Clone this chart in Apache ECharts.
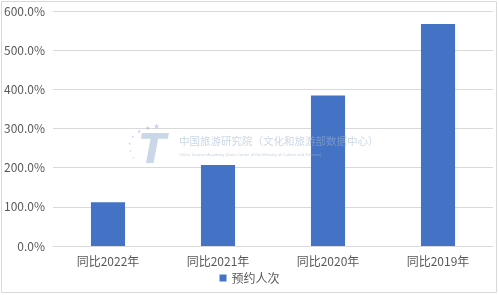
<!DOCTYPE html>
<html><head><meta charset="utf-8">
<script src="https://cdn.jsdelivr.net/npm/echarts@6/dist/echarts.min.js"></script>
<style>html,body{margin:0;padding:0;background:#fff}#c{width:499px;height:295px}</style>
</head><body><div id="c"></div>
<script>
const categories = ['同比2022年','同比2021年','同比2020年','同比2019年'];
const seriesName = '预约人次';
const values = [112, 207, 384, 567];
const yTicks = [0, 100, 200, 300, 400, 500, 600];

const chart = echarts.init(document.getElementById('c'), null, {renderer:'canvas'});
const font = '"Noto Sans CJK SC","Noto Sans",sans-serif';
const wm = 'rgba(150,175,210,0.5)';
function star(x,y,s){return {type:'text',left:x,top:y,style:{text:'★',font:s+'px "DejaVu Sans",sans-serif',fill:wm},z:10};}
chart.setOption({
  animation:false,
  textStyle:{fontFamily:font},
  grid:{left:53,right:6,top:11,bottom:49,containLabel:false},
  legend:{data:[seriesName],bottom:6,left:'center',itemWidth:7,itemHeight:7,itemGap:4,
    icon:'rect',textStyle:{color:'#595959',fontSize:12,fontFamily:font}},
  xAxis:{type:'category',data:categories,
    axisLine:{lineStyle:{color:'#d9d9d9'}},axisTick:{show:false},
    axisLabel:{color:'#595959',fontSize:12,margin:9,fontFamily:font}},
  yAxis:{type:'value',min:yTicks[0],max:yTicks[yTicks.length-1],interval:100,
    axisLine:{show:false},axisTick:{show:false},
    splitLine:{lineStyle:{color:'#d9d9d9'}},
    axisLabel:{color:'#595959',fontSize:12,margin:8,fontFamily:font,
      formatter:v=>v.toFixed(1)+'%'}},
  series:[{name:seriesName,type:'bar',data:values,barWidth:'31%',
    itemStyle:{color:'#4472C4'}}],
  graphic:[
    {type:'rect',shape:{x:1.5,y:1.5,width:495,height:291},style:{fill:null,stroke:'#d9d9d9',lineWidth:1},z:-1},
    {type:'text',left:139,top:133,style:{text:'T',font:'italic bold 40px "DejaVu Sans",sans-serif',fill:wm},z:10},
    star(153,123,8), star(145,125,6), star(137,129,5), star(131,135,4), star(128,142,4), star(129,150,3), star(132,157,3),
    {type:'text',left:179,top:136,style:{text:'中国旅游研究院（文化和旅游部数据中心）',font:'10.5px '+font,fill:'rgba(160,180,205,0.55)'},z:10},
    {type:'text',left:179,top:153,style:{text:'China Tourism Academy (Data Center of the Ministry of Culture and Tourism)',font:'4.2px sans-serif',fill:'rgba(160,180,205,0.6)'},z:10}
  ]
});
</script></body></html>
